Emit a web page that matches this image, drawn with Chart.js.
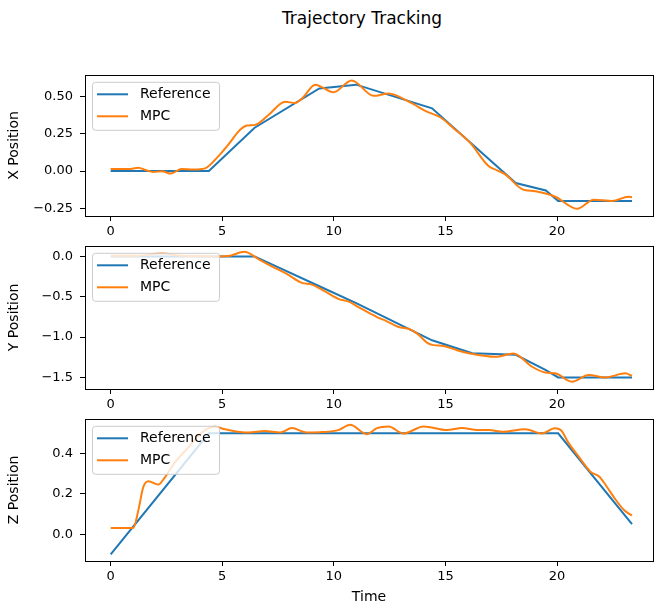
<!DOCTYPE html>
<html>
<head>
<meta charset="utf-8">
<title>Trajectory Tracking</title>
<script src="https://cdn.jsdelivr.net/npm/chart.js@4.4.1/dist/chart.umd.min.js"></script>
<style>
  body { margin: 0; background: #fff; }
  #wrap { position: relative; width: 655px; height: 609px; overflow: hidden; font-family: 'DejaVu Sans', sans-serif; }
  #title { position: absolute; left: 0; width: 724px; top: 8px; text-align: center; font-size: 17px; color: #000; }
  canvas { position: absolute; left: 0; }
</style>
</head>
<body>
<div id="wrap">
  <div id="title">Trajectory Tracking</div>
  <canvas id="panelX" width="655" height="180" style="top:60px"></canvas>
  <canvas id="panelY" width="655" height="184" style="top:231px"></canvas>
  <canvas id="panelZ" width="655" height="205" style="top:404px"></canvas>
</div>
<script>
// Reference trajectory waypoints (shared time base)
const refTime = [0, 4.4, 6.45, 9.35, 11.0, 14.4, 16.2, 18.15, 19.5, 20.05, 23.36];
const refX = [0, 0, 0.29, 0.553, 0.578, 0.42, 0.18, -0.08, -0.13, -0.2, -0.2];
const refY = [0, 0, 0, -0.37, -0.58, -1.04, -1.2, -1.22, -1.41, -1.5, -1.5];
const refZ = [-0.1, 0.5, 0.5, 0.5, 0.5, 0.5, 0.5, 0.5, 0.5, 0.5, 0.05];

// MPC tracked positions
const mpcXTime = [0, 0.8, 1.24, 1.6, 1.91, 2.3, 2.7, 3.18, 3.7, 4.23, 4.83, 5.27, 5.8, 6.1, 6.47, 7.07, 7.82, 8.26, 8.64, 9.16, 9.98, 10.8, 11.78, 12.45, 13.42, 14.17, 14.77, 15.36, 16.1, 16.93, 17.31, 17.68, 18.43, 19.03, 19.92, 20.9, 21.64, 22.47, 23.2, 23.36];
const mpcX = [0.013, 0.013, 0.022, 0.005, -0.006, -0.002, -0.017, 0.014, 0.01, 0.018, 0.1, 0.177, 0.276, 0.304, 0.309, 0.375, 0.463, 0.456, 0.496, 0.578, 0.527, 0.606, 0.503, 0.519, 0.459, 0.397, 0.36, 0.287, 0.19, 0.033, 0.005, -0.022, -0.121, -0.136, -0.172, -0.253, -0.192, -0.2, -0.172, -0.175];

const mpcYTime = [0, 1.2, 2.3, 3.2, 4.0, 4.83, 5.27, 5.99, 6.62, 7.22, 7.89, 8.57, 9.01, 9.54, 10.2, 10.65, 11.18, 11.93, 12.38, 12.9, 13.42, 13.79, 14.17, 14.47, 14.91, 15.52, 16.18, 17.23, 18.05, 18.88, 19.48, 19.92, 20.67, 21.42, 22.17, 23.06, 23.36];
const mpcY = [0.01, 0.01, 0.035, 0.008, 0.005, 0.0, 0.005, 0.058, -0.032, -0.123, -0.217, -0.328, -0.349, -0.423, -0.526, -0.558, -0.641, -0.752, -0.805, -0.875, -0.904, -0.97, -1.068, -1.1, -1.11, -1.163, -1.208, -1.245, -1.204, -1.368, -1.44, -1.45, -1.553, -1.47, -1.5, -1.45, -1.48];

const mpcZTime = [0, 1.01, 1.24, 1.46, 1.69, 2.13, 2.43, 2.88, 3.48, 4.08, 4.68, 5.13, 6.17, 6.92, 7.59, 8.12, 8.79, 9.5, 10.2, 10.73, 11.48, 11.93, 12.45, 13.12, 14.02, 15.07, 15.74, 16.43, 16.97, 17.55, 18.58, 19.33, 19.9, 20.18, 20.5, 21.0, 21.5, 21.9, 22.2, 22.6, 23.0, 23.36];
const mpcZ = [0.031, 0.031, 0.118, 0.233, 0.263, 0.246, 0.282, 0.356, 0.43, 0.504, 0.532, 0.52, 0.504, 0.512, 0.504, 0.526, 0.504, 0.506, 0.516, 0.542, 0.496, 0.526, 0.534, 0.499, 0.534, 0.516, 0.527, 0.516, 0.516, 0.508, 0.52, 0.499, 0.525, 0.515, 0.455, 0.38, 0.31, 0.285, 0.24, 0.175, 0.12, 0.093];

// Tick values and labels
const timeTicks = [0, 5, 10, 15, 20];
const timeTickLabels = ['0', '5', '10', '15', '20'];
const xTicks = [-0.25, 0, 0.25, 0.5];
const xTickLabels = ['\u22120.25', '0.00', '0.25', '0.50'];
const yTicks = [-1.5, -1.0, -0.5, 0];
const yTickLabels = ['\u22121.5', '\u22121.0', '\u22120.5', '0.0'];
const zTicks = [0, 0.2, 0.4];
const zTickLabels = ['0.0', '0.2', '0.4'];

const seriesNames = ['Reference', 'MPC'];
const blue = '#1f77b4';
const orange = '#ff7f0e';
const font = "'DejaVu Sans', sans-serif";

Chart.defaults.font.family = font;
Chart.defaults.color = '#000';

function toPoints(ts, vs) {
    return ts.map((t, i) => ({ x: t, y: vs[i] }));
}

// Frame on all four sides + matplotlib-like legend in the upper left
const framePlugin = {
    id: 'frameAndLegend',
    afterDatasetsDraw(chart) {
        const ctx = chart.ctx;
        const a = chart.chartArea;
        ctx.save();
        ctx.strokeStyle = '#000';
        ctx.lineWidth = 1;
        ctx.strokeRect(Math.round(a.left) + 0.5, Math.round(a.top) + 0.5, Math.round(a.right - a.left), Math.round(a.bottom - a.top));

        // legend box
        const bx = a.left + 7, by = a.top + 7, bw = 127, bh = 48;
        ctx.fillStyle = 'rgba(255,255,255,0.8)';
        ctx.strokeStyle = '#cccccc';
        ctx.beginPath();
        ctx.roundRect(bx + 0.5, by + 0.5, bw, bh, 3);
        ctx.fill();
        ctx.stroke();
        const colors = [blue, orange];
        ctx.font = '14px ' + font;
        ctx.textBaseline = 'middle';
        seriesNames.forEach((name, i) => {
            const ly = by + 12.5 + i * 22;
            ctx.strokeStyle = colors[i];
            ctx.lineWidth = 2;
            ctx.beginPath();
            ctx.moveTo(bx + 5, ly);
            ctx.lineTo(bx + 36, ly);
            ctx.stroke();
            ctx.fillStyle = '#000';
            ctx.fillText(name, bx + 48, ly);
        });
        ctx.restore();
    }
};

function makePanel(id, refVals, mpcT, mpcV, yMin, yMax, ticks, tickLabels, yTitle, padTop, xHeight, showTime) {
    const ctx = document.getElementById(id).getContext('2d');
    return new Chart(ctx, {
        type: 'line',
        data: {
            datasets: [
                {
                    label: seriesNames[0],
                    data: toPoints(refTime, refVals),
                    borderColor: blue,
                    borderWidth: 2,
                    pointRadius: 0,
                    tension: 0,
                    order: 1
                },
                {
                    label: seriesNames[1],
                    data: toPoints(mpcT, mpcV),
                    borderColor: orange,
                    borderWidth: 2,
                    pointRadius: 0,
                    cubicInterpolationMode: 'monotone',
                    order: 0
                }
            ]
        },
        options: {
            responsive: false,
            animation: false,
            devicePixelRatio: 1,
            layout: { padding: { top: padTop, right: 2, left: 0, bottom: 0 } },
            plugins: { legend: { display: false }, tooltip: { enabled: false } },
            scales: {
                x: {
                    type: 'linear',
                    min: -1.15,
                    max: 24.3,
                    afterBuildTicks: scale => { scale.ticks = timeTicks.map(v => ({ value: v })); },
                    afterFit: scale => { scale.height = xHeight; },
                    ticks: {
                        font: { size: 13 },
                        padding: 3,
                        maxRotation: 0,
                        callback: v => timeTickLabels[timeTicks.indexOf(v)]
                    },
                    grid: { drawOnChartArea: false, drawTicks: true, tickLength: 5, color: '#000' },
                    border: { display: false },
                    title: { display: showTime, text: 'Time', font: { size: 14 }, padding: { top: 2, bottom: 3 } }
                },
                y: {
                    type: 'linear',
                    min: yMin,
                    max: yMax,
                    afterBuildTicks: scale => { scale.ticks = ticks.map(v => ({ value: v })); },
                    afterFit: scale => { scale.width = 85; },
                    ticks: {
                        font: { size: 13 },
                        padding: 7,
                        callback: v => tickLabels[ticks.indexOf(v)]
                    },
                    grid: { drawOnChartArea: false, drawTicks: true, tickLength: 5, color: '#000' },
                    border: { display: false },
                    title: { display: true, text: yTitle, font: { size: 14 }, padding: { top: 6, bottom: 2 } }
                }
            }
        },
        plugins: [framePlugin]
    });
}

// chart tops land about 14px below each canvas top (tick label room)
makePanel('panelX', refX, mpcXTime, mpcX, -0.301, 0.644, xTicks, xTickLabels, 'X Position', 13.5, 24, false);
makePanel('panelY', refY, mpcYTime, mpcY, -1.644, 0.132, yTicks, yTickLabels, 'Y Position', 0, 26, false);
makePanel('panelZ', refZ, mpcZTime, mpcZ, -0.133, 0.572, zTicks, zTickLabels, 'Z Position', 0, 48, true);
</script>
</body>
</html>
